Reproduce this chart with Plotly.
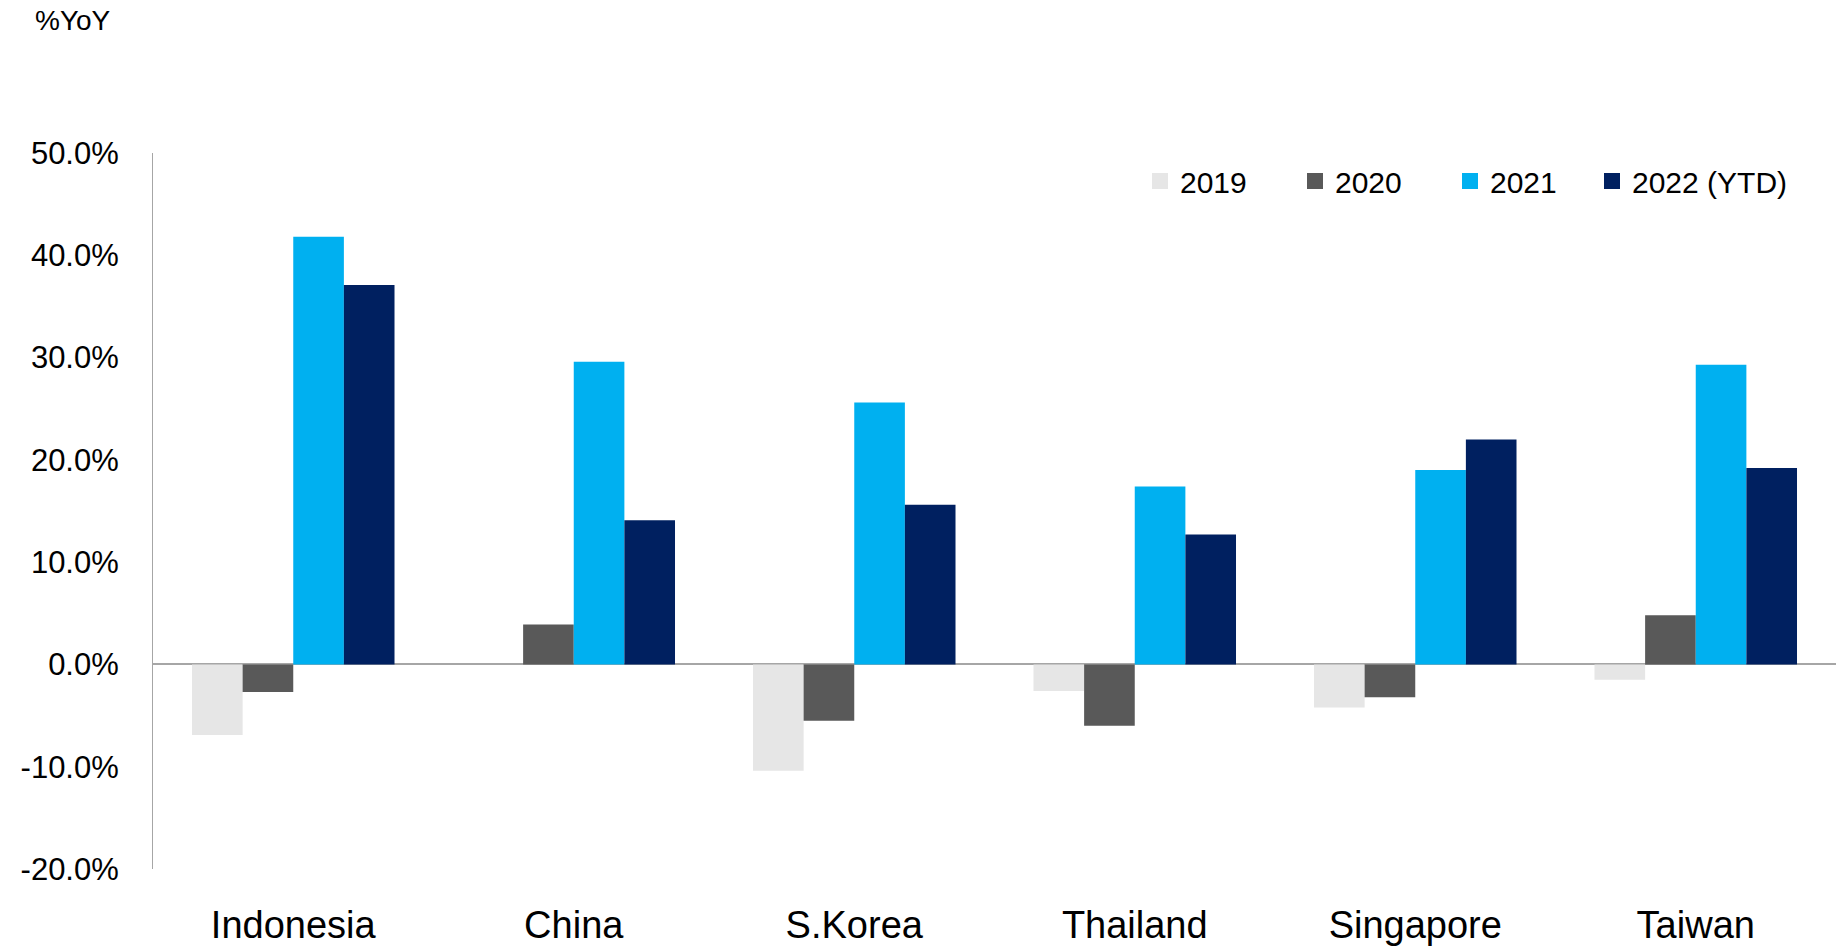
import plotly.graph_objects as go

categories = ["Indonesia", "China", "S.Korea", "Thailand", "Singapore", "Taiwan"]
series_names = ["2019", "2020", "2021", "2022 (YTD)"]
v2019 = [-6.9, 0.0, -10.4, -2.6, -4.2, -1.5]
v2020 = [-2.7, 3.9, -5.5, -6.0, -3.2, 4.8]
v2021 = [41.8, 29.6, 25.6, 17.4, 19.0, 29.3]
v2022 = [37.1, 14.1, 15.6, 12.7, 22.0, 19.2]
colors = ["#E6E6E6", "#595959", "#00B0F0", "#002060"]
y_ticks = [-20, -10, 0, 10, 20, 30, 40, 50]

FONT = "Liberation Sans, Arial, sans-serif"

W, H = 1836, 951
ml, mr, mt, mb = 153, 0, 153, 82
pw = W - ml - mr
ph = H - mt - mb

fig = go.Figure()
for name, vals, col in zip(series_names, [v2019, v2020, v2021, v2022], colors):
    fig.add_trace(go.Bar(x=categories, y=vals, name=name, marker_color=col,
                         marker_line_width=0, showlegend=False))
for i, (name, col) in enumerate(zip(series_names, colors)):
    fig.add_trace(go.Scatter(x=[None], y=[None], mode="markers", name=name,
                             legend="legend" if i < 3 else "legend2",
                             marker=dict(symbol="square", size=16, color=col)))

leg_x0 = 1140
leg_y = (H - mb - 181) / ph
legend_common = dict(orientation="h", xanchor="left", y=leg_y, yanchor="middle",
                     font=dict(size=30, family=FONT), itemsizing="trace",
                     bgcolor="rgba(0,0,0,0)")

fig.update_layout(
    width=W, height=H,
    margin=dict(l=ml, r=mr, t=mt, b=mb, pad=0),
    paper_bgcolor="white", plot_bgcolor="white",
    barmode="group", bargap=0.278, bargroupgap=0,
    font=dict(family=FONT, color="#000000"),
    legend=dict(x=(leg_x0 - ml) / pw, entrywidth=110, **legend_common),
    legend2=dict(x=(leg_x0 + 452 - ml) / pw, **legend_common),
    xaxis=dict(showgrid=False, showline=False, ticks="",
               tickfont=dict(size=38, family=FONT), ticklabelstandoff=30,
               fixedrange=True),
    yaxis=dict(range=[-20, 50], tickvals=y_ticks, ticktext=[f"{v:.1f}%" for v in y_ticks],
               showgrid=False, showline=True, linecolor="#A6A6A6", linewidth=1,
               ticks="", tickfont=dict(size=31, family=FONT), ticklabelstandoff=27,
               zeroline=True, zerolinecolor="#A6A6A6", zerolinewidth=2),
    annotations=[dict(text="%YoY", xref="paper", yref="paper",
                      x=(33 - ml) / pw, y=(H - mb - 21) / ph, xanchor="left",
                      yanchor="middle", showarrow=False,
                      font=dict(size=28, family=FONT, color="#000000"))],
)

fig.write_html("out.html")
